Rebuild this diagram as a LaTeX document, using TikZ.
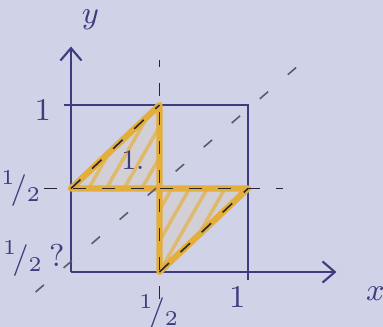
\documentclass[tikz,border=0pt]{standalone}
\usetikzlibrary{arrows.meta}
\definecolor{paper}{RGB}{208,211,231}
\definecolor{ink}{RGB}{62,60,125}
\definecolor{marker}{RGB}{228,174,58}
\definecolor{pencil}{RGB}{40,38,50}
\tikzset{
  inkline/.style={ink,line width=0.6pt},
  hatchline/.style={marker!70!paper,line width=1pt},
  markline/.style={marker,line width=1.8pt,line join=round},
  guide/.style={pencil,line width=0.45pt,dash pattern=on 1.3mm off 1.6mm},
  diag/.style={pencil!70!paper,line width=0.45pt,dash pattern=on 1.1mm off 2.6mm},
  lab/.style={ink,font=\small}
}
\begin{document}
\begin{tikzpicture}[x=1.77cm,y=1.67cm]
     \fill[paper] (-0.401,-0.329) rectangle (1.763,1.629);
     \useasboundingbox (-0.401,-0.329) rectangle (1.763,1.629);
     \coordinate (O) at (0,0);
     \coordinate (X) at (1.5,0);
     \coordinate (Y) at (0,1.35);
     \coordinate (A) at (0,0.5);
     \coordinate (B) at (0.5,1);
     \coordinate (M) at (0.5,0.5);
     \coordinate (C) at (1,0.5);
     \coordinate (D) at (0.5,0);
     % square and axes
     \draw[inkline] (-0.04,1) -- (1,1) -- (1,-0.05);
     \draw[inkline,-{Straight Barb[length=3.5pt,width=6pt]}] (O) -- (X);
     \draw[inkline,-{Straight Barb[length=3.5pt,width=6pt]}] (O) -- (Y);
     % shaded triangles
     \fill[marker!10!paper] (A) -- (B) -- (M) -- cycle;
     \fill[marker!10!paper] (M) -- (C) -- (D) -- cycle;
     \begin{scope}
     \clip (A) -- (B) -- (M) -- cycle;
     \foreach \s in {-0.3,-0.2,...,0.6}
          \draw[hatchline] (\s,0.5) -- ++(0.27,0.5);
     \end{scope}
     \begin{scope}
     \clip (M) -- (C) -- (D) -- cycle;
     \foreach \s in {0.2,0.3,...,1.1}
          \draw[hatchline] (\s,0) -- ++(0.27,0.5);
     \end{scope}
     \draw[markline] (A) -- (B) -- (M) -- cycle;
     \draw[markline] (M) -- (C) -- (D) -- cycle;
     % dashed guides
     \draw[guide] (0.5,-0.16) -- (0.5,1.27);
     \draw[guide] (-0.15,0.5) -- (1.2,0.5);
     \draw[guide] (A) -- (B);
     \draw[guide] (D) -- (C);
     \draw[diag] (-0.2,-0.12) -- (1.3,1.25);
     % labels
     \node[lab] (ylab) at (0.11,1.51) {$y$};
     \node[lab] (xlab) at (1.72,-0.13) {$x$};
     \node[lab] (y1) at (-0.16,0.97) {$1$};
     \node[lab] (yhalf) at (-0.28,0.5) {$^1\!/_2$};
     \node[lab] (ylow) at (-0.27,0.08) {$^1\!/_2$};
     \node[lab] (qm) at (-0.08,0.1) {?};
     \node[lab] (xhalf) at (0.5,-0.24) {$^1\!/_2$};
     \node[lab] (x1) at (0.94,-0.15) {$1$};
     \node[lab,font=\footnotesize] (area) at (0.35,0.67) {1.};
\end{tikzpicture}
\end{document}
